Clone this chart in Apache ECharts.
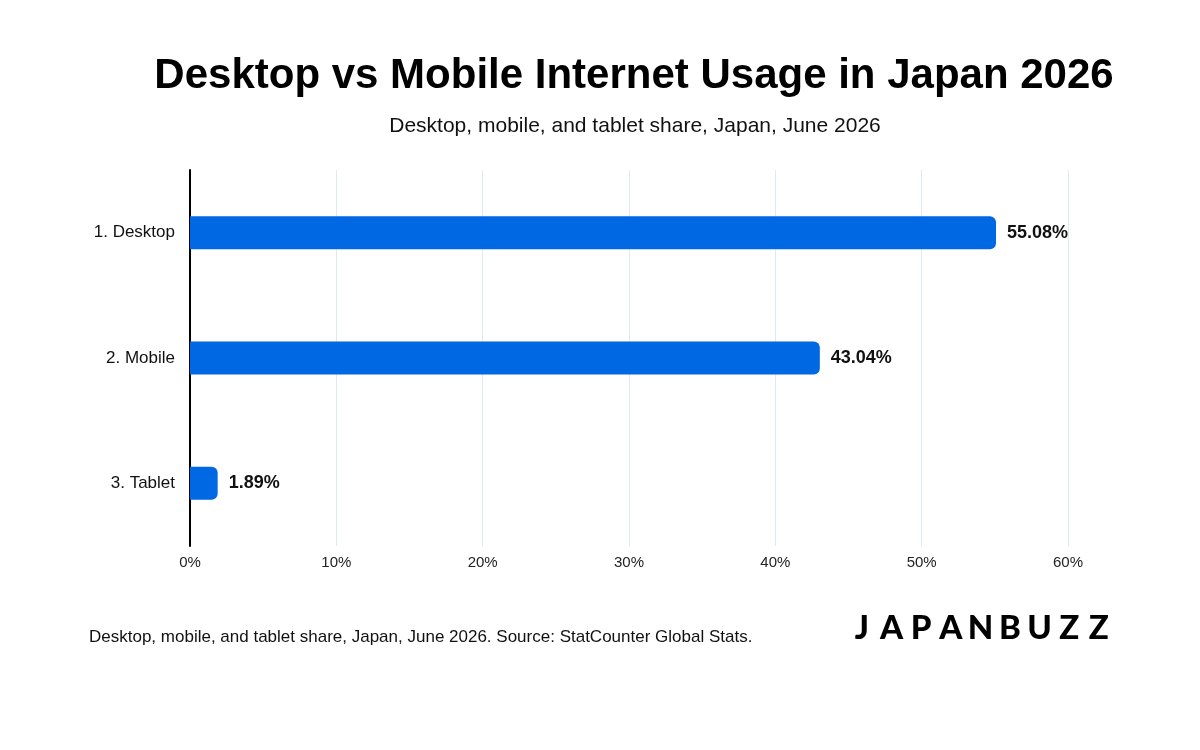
<!DOCTYPE html>
<html>
<head>
<meta charset="utf-8">
<script src="https://cdn.jsdelivr.net/npm/echarts@6/dist/echarts.min.js"></script>
<style>
html,body{margin:0;padding:0;background:#fff;}
#chart{width:1200px;height:750px;}
</style>
</head>
<body>
<div id="chart"></div>
<script>
var categories = ['1. Desktop', '2. Mobile', '3. Tablet'];
var shares = [55.08, 43.04, 1.89];
var tickLabels = ['0%', '10%', '20%', '30%', '40%', '50%', '60%'];
var logoText = 'JAPANBUZZ';

var font = '"Liberation Sans", Arial, sans-serif';

// logo letters spaced out one by one (no letter-spacing in zrender)
var logoLetters = [];
for (var i = 0; i < logoText.length; i++) {
    logoLetters.push({
        type: 'text',
        x: 862 + i * 29.6,
        y: 628,
        style: {
            text: logoText[i],
            font: '900 33px Lato, Roboto, sans-serif',
            fill: '#000',
            textAlign: 'center',
            textVerticalAlign: 'middle'
        }
    });
}

var chart = echarts.init(document.getElementById('chart'));
chart.setOption({
    backgroundColor: '#fff',
    animation: false,
    title: [{
        text: 'Desktop vs Mobile Internet Usage in Japan 2026',
        left: 629,
        textAlign: 'center',
        top: 50,
        textStyle: {fontFamily: font, fontSize: 42, fontWeight: 'bold', color: '#000'}
    }, {
        text: 'Desktop, mobile, and tablet share, Japan, June 2026',
        left: 630,
        textAlign: 'center',
        top: 111,
        textStyle: {fontFamily: font, fontSize: 21, fontWeight: 'normal', color: '#111'}
    }, {
        text: 'Desktop, mobile, and tablet share, Japan, June 2026. Source: StatCounter Global Stats.',
        left: 84,
        top: 624,
        textStyle: {fontFamily: font, fontSize: 17, fontWeight: 'normal', color: '#111'}
    }],
    grid: {left: 190, right: 132, top: 170, bottom: 204},
    xAxis: {
        type: 'value',
        min: 0,
        max: 60,
        interval: 10,
        axisLine: {show: false},
        axisTick: {show: false},
        splitLine: {lineStyle: {color: '#dde9f6', width: 1}},
        axisLabel: {
            fontFamily: font, fontSize: 15, color: '#222', margin: 9,
            formatter: function (v) { return tickLabels[v / 10]; }
        }
    },
    yAxis: {
        type: 'category',
        data: categories,
        inverse: true,
        axisLine: {show: true, lineStyle: {color: '#000', width: 2}},
        axisTick: {show: false},
        axisLabel: {fontFamily: font, fontSize: 17, color: '#111', margin: 15}
    },
    series: [{
        type: 'bar',
        data: shares,
        barWidth: 33,
        itemStyle: {color: '#0068e2', borderRadius: [0, 6, 6, 0]},
        label: {
            show: true,
            position: 'right',
            distance: 11,
            fontFamily: font,
            fontSize: 18,
            fontWeight: 'bold',
            color: '#111',
            formatter: function (p) { return p.value.toFixed(2) + '%'; }
        }
    }],
    graphic: logoLetters
});
</script>
</body>
</html>
